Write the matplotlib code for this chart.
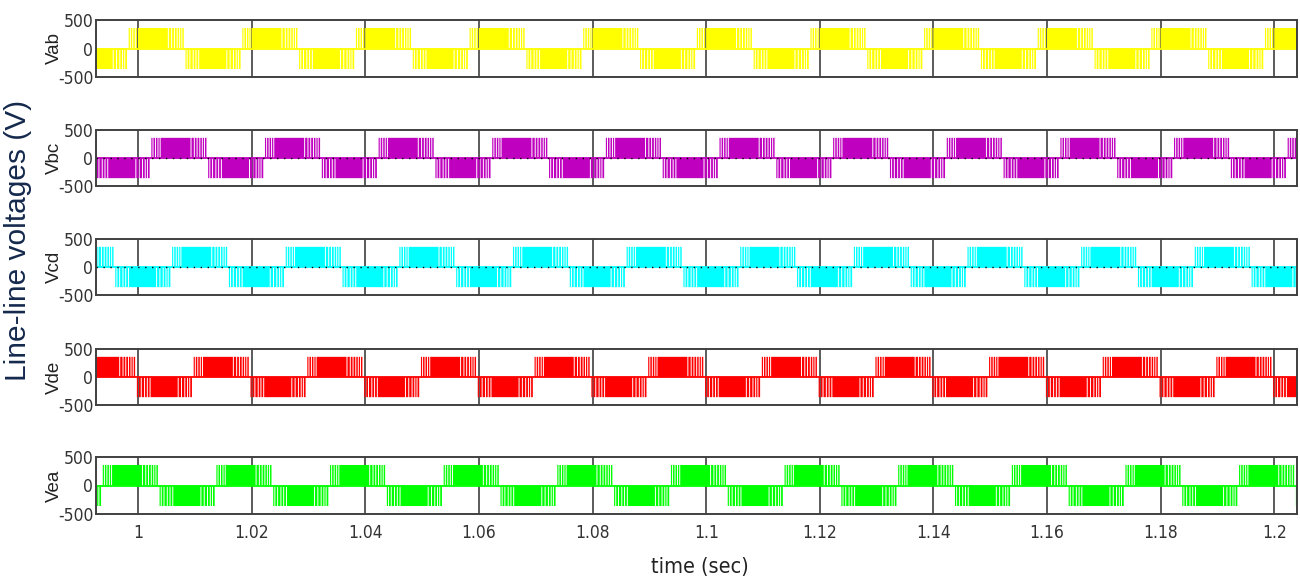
import numpy as np
import matplotlib
matplotlib.use("Agg")
import matplotlib.pyplot as plt
from matplotlib import font_manager as fm

plt.rcParams['axes.unicode_minus'] = False

# panels, top to bottom
names = ['Vab', 'Vbc', 'Vcd', 'Vde', 'Vea']
colors = ['#ffff00', '#bf00bf', '#00ffff', '#ff0000', '#00ff00']
# time where each line voltage starts its positive half
first_rise = [0.99835, 1.00234, 1.00599, 1.00979, 1.01379]

amp = 360.0          # pulse height, V
half = 0.01          # half period, s (50 Hz)
active = 0.0097      # pulsed part of each half cycle
notch_w = 0.00017    # width of a white notch

# notch centres inside a half cycle, as fraction of the pulsed part
pos_notches = [0.03, 0.075, 0.12, 0.16, 0.72, 0.78, 0.83, 0.88, 0.925, 0.965]
neg_notches = [0.03, 0.08, 0.14, 0.19, 0.24, 0.75, 0.81, 0.87, 0.92, 0.96]

xlim = (0.9926, 1.2039)
ylim = (-500, 500)
xticks = [1, 1.02, 1.04, 1.06, 1.08, 1.1, 1.12, 1.14, 1.16, 1.18, 1.2]
xticklabels = ['1', '1.02', '1.04', '1.06', '1.08', '1.1', '1.12', '1.14', '1.16', '1.18', '1.2']
yticks = [-500, 0, 500]
yticklabels = ['-500', '0', '500']

# panel top / bottom in pixels of the 1300x584 picture
panel_px = [(20, 77), (130, 186), (239, 295), (349, 405), (457, 514)]

W, H = 1300, 584


def font(cands, **kw):
    # first installed family of the list
    for c in cands:
        try:
            fm.findfont(fm.FontProperties(family=c), fallback_to_default=False)
            return fm.FontProperties(family=c, **kw)
        except ValueError:
            pass
    return fm.FontProperties(family='DejaVu Sans', **kw)


def narrow_font(size):
    for c in ['Liberation Sans Narrow', 'Arial Narrow']:
        try:
            fm.findfont(fm.FontProperties(family=c), fallback_to_default=False)
            return fm.FontProperties(family=c, size=size)
        except ValueError:
            pass
    return fm.FontProperties(family='DejaVu Sans', stretch='condensed', size=size)


def build_wave(rise):
    tt = [xlim[0] - 0.02]
    yy = [0.0]
    k = int(np.floor((xlim[0] - rise) / half)) - 1
    while True:
        s = rise + k * half
        if s > xlim[1] + 0.01:
            break
        sgn = 1 if k % 2 == 0 else -1
        notches = pos_notches if sgn > 0 else neg_notches
        edges = [s]
        for f in notches:
            c = s + f * active
            edges += [c - notch_w / 2, c + notch_w / 2]
        edges.append(s + active)
        for i in range(0, len(edges), 2):
            tt += [edges[i], edges[i + 1]]
            yy += [sgn * amp, 0.0]
        k += 1
    tt.append(xlim[1] + 0.02)
    yy.append(0.0)
    return np.array(tt), np.array(yy)


tick_fp = narrow_font(12.5)
lab_fp = font(['Liberation Sans', 'Arimo', 'Arial'], size=13.5)
big_fp = font(['Liberation Sans', 'Arimo', 'Arial'], size=21.5)
time_fp = narrow_font(15.5)

fig = plt.figure(figsize=(W / 100, H / 100), dpi=100)
left, right = 96 / W, 1296.5 / W

for i, name in enumerate(names):
    top, bot = panel_px[i]
    ax = fig.add_axes([left, 1 - bot / H, right - left, (bot - top) / H])
    t, v = build_wave(first_rise[i])
    ax.fill_between(t, 0, v, step='post', color=colors[i], lw=0, zorder=2)
    ax.axhline(0, color=colors[i], lw=1.3, zorder=2)
    if name in ('Vbc', 'Vcd'):
        ax.axhline(0, color='k', lw=1.0, ls=(0, (1, 4)), zorder=3)

    ax.set_xlim(*xlim)
    ax.set_ylim(*ylim)
    ax.set_xticks(xticks)
    ax.set_yticks(yticks)
    ax.set_yticklabels(yticklabels, fontproperties=tick_fp, color='#333333')
    if i == len(names) - 1:
        ax.set_xticklabels(xticklabels, fontproperties=tick_fp, color='#333333')
    else:
        ax.set_xticklabels([])
    ax.tick_params(axis='y', length=0, pad=2)
    ax.tick_params(axis='x', length=0, pad=7)
    ax.grid(axis='x', color='#404040', lw=1.2)
    ax.set_axisbelow(True)
    for sp in ax.spines.values():
        sp.set_color('#404040')
        sp.set_linewidth(1.4)
        sp.set_zorder(4)

    fig.text(54 / W, 1 - (top + bot) / 2 / H, name, rotation=90,
             ha='center', va='center', fontproperties=lab_fp, color='#222222')

fig.text(18 / W, 1 - 240 / H, 'Line-line voltages (V)', rotation=90,
         ha='center', va='center', fontproperties=big_fp, color='#15294d')
fig.text(700 / W, 1 - 567 / H, 'time (sec)', ha='center', va='center',
         fontproperties=time_fp, color='#222222')

fig.savefig('out.png', dpi=100, facecolor='white')
